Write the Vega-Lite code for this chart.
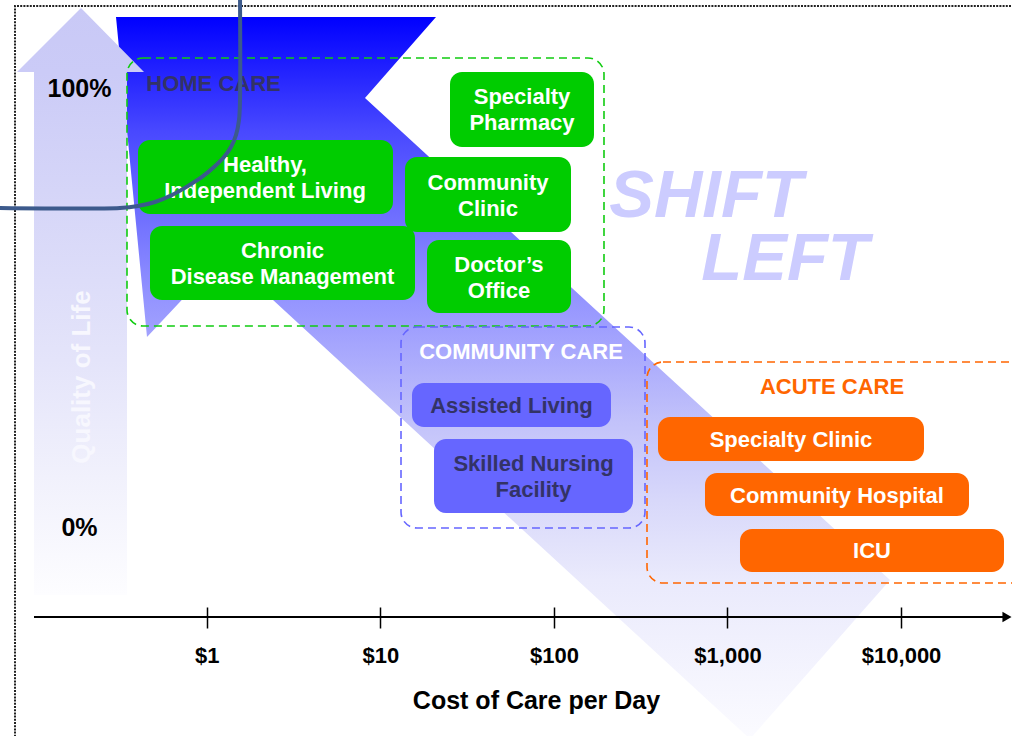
{
  "$schema": "https://vega.github.io/schema/vega-lite/v6.json",
  "width": 1012,
  "height": 736,
  "autosize": "none",
  "padding": 0,
  "background": "white",
  "config": {
    "view": {"stroke": null},
    "font": "Liberation Sans",
    "axisX": {"domain": false, "grid": false, "ticks": true, "tickSize": 21, "tickWidth": 1.5, "tickColor": "black",
      "labelFont": "Liberation Sans", "labelFontSize": 22, "labelFontWeight": "bold", "labelColor": "black", "labelPadding": 17,
      "labelFlush": false, "labelOverlap": false, "labelBound": false,
      "titleFont": "Liberation Sans", "titleFontSize": 25, "titleFontWeight": "bold", "titleColor": "black"},
    "axisY": {"domain": false, "grid": false, "ticks": false, "tickSize": 0, "labelPadding": 0, "labelAlign": "center", "labelBaseline": "middle",
      "labelFont": "Liberation Sans", "labelFontSize": 25, "labelFontWeight": "bold", "labelColor": "black"}
  },
  "datasets": {
    "border": [
      {"i": 0, "cost": 0.07866, "q": -48.52},
      {"i": 1, "cost": 0.07866, "q": 118.68},
      {"i": 2, "cost": 55273, "q": 118.68}
    ],
    "bigArrow": [
      {"i": 0, "cost": 0.30028, "q": 116.17},
      {"i": 1, "cost": 20.934, "q": 116.17},
      {"i": 2, "cost": 8.1634, "q": 97.72},
      {"i": 3, "cost": 8631.4, "q": -12.07},
      {"i": 4, "cost": 1347.8, "q": -48.29},
      {"i": 5, "cost": 1.2579, "q": 61.96},
      {"i": 6, "cost": 0.45301, "q": 43.28}
    ],
    "qualityArrow": [
      {"i": 0, "cost": 0.18877, "q": 118.22},
      {"i": 1, "cost": 0.43535, "q": 103.64},
      {"i": 2, "cost": 0.34745, "q": 103.64},
      {"i": 3, "cost": 0.34745, "q": -15.49},
      {"i": 4, "cost": 0.1012, "q": -15.49},
      {"i": 5, "cost": 0.1012, "q": 103.64},
      {"i": 6, "cost": 0.08078, "q": 103.64}
    ],
    "zones": [
      {"zone": "home", "cost": 0.34745, "cost2": 194.35, "q": 106.83, "q2": 45.79},
      {"zone": "community", "cost": 13.16, "cost2": 334.8, "q": 45.56, "q2": -0.23},
      {"zone": "acute", "cost": 343.8, "cost2": 55273, "q": 37.59, "q2": -12.76}
    ],
    "zoneTitles": [
      {"zone": "home", "title": "HOME CARE", "cost": 1.0943, "q": 100.91},
      {"zone": "community", "title": "COMMUNITY CARE", "cost": 64.637, "q": 39.86},
      {"zone": "acute", "title": "ACUTE CARE", "cost": 3999.1, "q": 31.89}
    ],
    "settings": [
      {"zone": "home", "label": "Specialty\nPharmacy", "lines": 2, "cost": 25.206, "cost2": 170.21, "q": 103.64, "q2": 86.56, "labelCost": 65.5, "labelQ": 94.99},
      {"zone": "home", "label": "Healthy,\nIndependent Living", "lines": 2, "cost": 0.40204, "cost2": 11.835, "q": 88.15, "q2": 71.3, "labelCost": 2.16696, "labelQ": 79.61},
      {"zone": "home", "label": "Community\nClinic", "lines": 2, "cost": 13.876, "cost2": 125.46, "q": 84.28, "q2": 67.2, "labelCost": 41.725, "labelQ": 75.4},
      {"zone": "home", "label": "Chronic\nDisease Management", "lines": 2, "cost": 0.47142, "cost2": 15.845, "q": 68.56, "q2": 51.71, "labelCost": 2.73313, "labelQ": 59.91},
      {"zone": "home", "label": "Doctor’s\nOffice", "lines": 2, "cost": 18.579, "cost2": 125.46, "q": 65.38, "q2": 48.75, "labelCost": 48.279, "labelQ": 56.72},
      {"zone": "community", "label": "Assisted Living", "lines": 1, "cost": 15.226, "cost2": 213.25, "q": 32.8, "q2": 22.78, "labelCost": 56.984, "labelQ": 27.56},
      {"zone": "community", "label": "Skilled Nursing\nFacility", "lines": 2, "cost": 20.386, "cost2": 285.52, "q": 20.05, "q2": 3.19, "labelCost": 76.294, "labelQ": 11.28},
      {"zone": "acute", "label": "Specialty Clinic", "lines": 1, "cost": 397.79, "cost2": 13549, "q": 25.06, "q2": 15.03, "labelCost": 2321.7, "labelQ": 19.82},
      {"zone": "acute", "label": "Community  Hospital", "lines": 1, "cost": 741.94, "cost2": 24611, "q": 12.3, "q2": 2.51, "labelCost": 4273.2, "labelQ": 7.06},
      {"zone": "acute", "label": "ICU", "lines": 1, "cost": 1180.3, "cost2": 39151, "q": -0.46, "q2": -10.25, "labelCost": 6797.7, "labelQ": -5.47}
    ],
    "shift": [
      {"word": "SHIFT", "cost": 751.88, "q": 75.17},
      {"word": "LEFT", "cost": 2143.9, "q": 60.82}
    ],
    "quality": [
      {"text": "Quality of Life", "cost": 0.19129, "q": 34.17}
    ],
    "curve": [
      {"i": 0, "cost": 1.5553, "q": 121.18},
      {"i": 1, "cost": 1.5553, "q": 97.27},
      {"i": 2, "cost": 1.5348, "q": 92.71},
      {"i": 3, "cost": 1.475, "q": 89.29},
      {"i": 4, "cost": 1.3804, "q": 86.56},
      {"i": 5, "cost": 1.2579, "q": 84.28},
      {"i": 6, "cost": 1.1016, "q": 82.0},
      {"i": 7, "cost": 0.93961, "q": 79.73},
      {"i": 8, "cost": 0.78033, "q": 77.68},
      {"i": 9, "cost": 0.63114, "q": 75.63},
      {"i": 10, "cost": 0.50373, "q": 74.03},
      {"i": 11, "cost": 0.40204, "q": 73.12},
      {"i": 12, "cost": 0.31665, "q": 72.67},
      {"i": 13, "cost": 0.064466, "q": 72.67}
    ],
    "axisLine": [
      {"cost": 0.1012, "cost2": 39500, "q": -20.5}
    ],
    "axisHead": [
      {"cost": 40740, "q": -20.5}
    ]
  },
  "layer": [
    {
      "data": {"name": "border"},
      "mark": {"type": "line", "stroke": "#222222", "strokeWidth": 2, "strokeDash": [2, 1.2]},
      "encoding": {
        "x": {"field": "cost", "type": "quantitative", "scale": {"type": "log", "domain": [0.064466, 43535], "nice": false},
          "axis": {"values": [1, 10, 100, 1000, 10000], "labelExpr": "'$' + format(datum.value, ',')", "offset": -129, "zindex": 1, "title": "Cost of Care per Day", "titleX": 536, "titleY": 101, "titleAlign": "center", "titleBaseline": "alphabetic"}},
        "y": {"field": "q", "type": "quantitative", "scale": {"domain": [-47.608, 120.046], "nice": false, "zero": false},
          "axis": {"values": [0, 100], "labelExpr": "datum.value + '%'", "offset": -79, "zindex": 1, "title": null}},
        "order": {"field": "i"}
      }
    },
    {
      "data": {"name": "bigArrow"},
      "mark": {
        "type": "line", "interpolate": "linear-closed", "strokeWidth": 0,
        "fill": {"gradient": "linear", "x1": 0, "y1": 0, "x2": 0, "y2": 1,
          "stops": [
            {"offset": 0, "color": "#0000ff"},
            {"offset": 0.157, "color": "#4848ff"},
            {"offset": 0.39, "color": "#9494ff"},
            {"offset": 0.56, "color": "#c2c2fa"},
            {"offset": 0.67, "color": "#d8d8fa"},
            {"offset": 0.78, "color": "#eaeafc"},
            {"offset": 1, "color": "#fbfbff"}
          ]}
      },
      "encoding": {
        "x": {"field": "cost", "type": "quantitative", "scale": {"type": "log", "domain": [0.064466, 43535], "nice": false},
          "axis": {"values": [1, 10, 100, 1000, 10000], "labelExpr": "'$' + format(datum.value, ',')", "offset": -129, "zindex": 1, "title": "Cost of Care per Day", "titleX": 536, "titleY": 101, "titleAlign": "center", "titleBaseline": "alphabetic"}},
        "y": {"field": "q", "type": "quantitative", "scale": {"domain": [-47.608, 120.046], "nice": false, "zero": false},
          "axis": {"values": [0, 100], "labelExpr": "datum.value + '%'", "offset": -79, "zindex": 1, "title": null}},
        "order": {"field": "i"}
      }
    },
    {
      "data": {"name": "qualityArrow"},
      "mark": {
        "type": "line", "interpolate": "linear-closed", "strokeWidth": 0,
        "fill": {"gradient": "linear", "x1": 0, "y1": 0, "x2": 0, "y2": 1,
          "stops": [
            {"offset": 0, "color": "#c9c9f6"},
            {"offset": 0.11, "color": "#cbcbf7"},
            {"offset": 0.33, "color": "#d6d6f8"},
            {"offset": 0.6, "color": "#e4e4fa"},
            {"offset": 0.8, "color": "#f1f1fc"},
            {"offset": 1, "color": "#fdfdff"}
          ]}
      },
      "encoding": {
        "x": {"field": "cost", "type": "quantitative", "scale": {"type": "log", "domain": [0.064466, 43535], "nice": false},
          "axis": {"values": [1, 10, 100, 1000, 10000], "labelExpr": "'$' + format(datum.value, ',')", "offset": -129, "zindex": 1, "title": "Cost of Care per Day", "titleX": 536, "titleY": 101, "titleAlign": "center", "titleBaseline": "alphabetic"}},
        "y": {"field": "q", "type": "quantitative", "scale": {"domain": [-47.608, 120.046], "nice": false, "zero": false},
          "axis": {"values": [0, 100], "labelExpr": "datum.value + '%'", "offset": -79, "zindex": 1, "title": null}},
        "order": {"field": "i"}
      }
    },
    {
      "data": {"name": "zones"},
      "mark": {"type": "rect", "fill": null, "fillOpacity": 0, "strokeWidth": 1.6, "strokeDash": [8, 5], "cornerRadius": 16},
      "encoding": {
        "x": {"field": "cost", "type": "quantitative", "scale": {"type": "log", "domain": [0.064466, 43535], "nice": false},
          "axis": {"values": [1, 10, 100, 1000, 10000], "labelExpr": "'$' + format(datum.value, ',')", "offset": -129, "zindex": 1, "title": "Cost of Care per Day", "titleX": 536, "titleY": 101, "titleAlign": "center", "titleBaseline": "alphabetic"}},
        "x2": {"field": "cost2"},
        "y": {"field": "q", "type": "quantitative", "scale": {"domain": [-47.608, 120.046], "nice": false, "zero": false},
          "axis": {"values": [0, 100], "labelExpr": "datum.value + '%'", "offset": -79, "zindex": 1, "title": null}},
        "y2": {"field": "q2"},
        "stroke": {"field": "zone", "type": "nominal", "scale": {"domain": ["home", "community", "acute"], "range": ["#11cc11", "#6666ff", "#ff6600"]}, "legend": null}
      }
    },
    {
      "data": {"name": "settings"},
      "mark": {"type": "rect", "cornerRadius": 12},
      "encoding": {
        "x": {"field": "cost", "type": "quantitative", "scale": {"type": "log", "domain": [0.064466, 43535], "nice": false},
          "axis": {"values": [1, 10, 100, 1000, 10000], "labelExpr": "'$' + format(datum.value, ',')", "offset": -129, "zindex": 1, "title": "Cost of Care per Day", "titleX": 536, "titleY": 101, "titleAlign": "center", "titleBaseline": "alphabetic"}},
        "x2": {"field": "cost2"},
        "y": {"field": "q", "type": "quantitative", "scale": {"domain": [-47.608, 120.046], "nice": false, "zero": false},
          "axis": {"values": [0, 100], "labelExpr": "datum.value + '%'", "offset": -79, "zindex": 1, "title": null}},
        "y2": {"field": "q2"},
        "color": {"field": "zone", "type": "nominal", "scale": {"domain": ["home", "community", "acute"], "range": ["#00cc00", "#6666ff", "#ff6600"]}, "legend": null}
      }
    },
    {
      "data": {"name": "settings"},
      "transform": [{"filter": "datum.lines === 1"}],
      "mark": {"type": "text", "fontSize": 22, "fontWeight": "bold", "align": "center", "baseline": "middle"},
      "encoding": {
        "x": {"field": "labelCost", "type": "quantitative", "scale": {"type": "log", "domain": [0.064466, 43535], "nice": false},
          "axis": {"values": [1, 10, 100, 1000, 10000], "labelExpr": "'$' + format(datum.value, ',')", "offset": -129, "zindex": 1, "title": "Cost of Care per Day", "titleX": 536, "titleY": 101, "titleAlign": "center", "titleBaseline": "alphabetic"}},
        "y": {"field": "labelQ", "type": "quantitative", "scale": {"domain": [-47.608, 120.046], "nice": false, "zero": false},
          "axis": {"values": [0, 100], "labelExpr": "datum.value + '%'", "offset": -79, "zindex": 1, "title": null}},
        "text": {"field": "label"},
        "color": {"condition": {"test": "datum.zone === 'community'", "value": "#333366"}, "value": "white"}
      }
    },
    {
      "data": {"name": "settings"},
      "transform": [{"filter": "datum.lines === 2"}],
      "mark": {"type": "text", "fontSize": 22, "fontWeight": "bold", "lineBreak": "\n", "lineHeight": 26, "dy": -13, "align": "center", "baseline": "middle"},
      "encoding": {
        "x": {"field": "labelCost", "type": "quantitative", "scale": {"type": "log", "domain": [0.064466, 43535], "nice": false},
          "axis": {"values": [1, 10, 100, 1000, 10000], "labelExpr": "'$' + format(datum.value, ',')", "offset": -129, "zindex": 1, "title": "Cost of Care per Day", "titleX": 536, "titleY": 101, "titleAlign": "center", "titleBaseline": "alphabetic"}},
        "y": {"field": "labelQ", "type": "quantitative", "scale": {"domain": [-47.608, 120.046], "nice": false, "zero": false},
          "axis": {"values": [0, 100], "labelExpr": "datum.value + '%'", "offset": -79, "zindex": 1, "title": null}},
        "text": {"field": "label"},
        "color": {"condition": {"test": "datum.zone === 'community'", "value": "#333366"}, "value": "white"}
      }
    },
    {
      "data": {"name": "zoneTitles"},
      "mark": {"type": "text", "fontSize": 22, "fontWeight": "bold", "align": "center", "baseline": "middle"},
      "encoding": {
        "x": {"field": "cost", "type": "quantitative", "scale": {"type": "log", "domain": [0.064466, 43535], "nice": false},
          "axis": {"values": [1, 10, 100, 1000, 10000], "labelExpr": "'$' + format(datum.value, ',')", "offset": -129, "zindex": 1, "title": "Cost of Care per Day", "titleX": 536, "titleY": 101, "titleAlign": "center", "titleBaseline": "alphabetic"}},
        "y": {"field": "q", "type": "quantitative", "scale": {"domain": [-47.608, 120.046], "nice": false, "zero": false},
          "axis": {"values": [0, 100], "labelExpr": "datum.value + '%'", "offset": -79, "zindex": 1, "title": null}},
        "text": {"field": "title"},
        "color": {"condition": [{"test": "datum.zone === 'home'", "value": "#333366"}, {"test": "datum.zone === 'acute'", "value": "#ff6600"}], "value": "white"}
      }
    },
    {
      "data": {"name": "shift"},
      "mark": {"type": "text", "fontSize": 67, "fontWeight": "bold", "fontStyle": "italic", "align": "center", "baseline": "middle", "color": "#ccccff"},
      "encoding": {
        "x": {"field": "cost", "type": "quantitative", "scale": {"type": "log", "domain": [0.064466, 43535], "nice": false},
          "axis": {"values": [1, 10, 100, 1000, 10000], "labelExpr": "'$' + format(datum.value, ',')", "offset": -129, "zindex": 1, "title": "Cost of Care per Day", "titleX": 536, "titleY": 101, "titleAlign": "center", "titleBaseline": "alphabetic"}},
        "y": {"field": "q", "type": "quantitative", "scale": {"domain": [-47.608, 120.046], "nice": false, "zero": false},
          "axis": {"values": [0, 100], "labelExpr": "datum.value + '%'", "offset": -79, "zindex": 1, "title": null}},
        "text": {"field": "word"}
      }
    },
    {
      "data": {"name": "quality"},
      "mark": {"type": "text", "fontSize": 26, "fontWeight": "bold", "align": "center", "baseline": "middle", "angle": 270, "color": "#f7f7fe"},
      "encoding": {
        "x": {"field": "cost", "type": "quantitative", "scale": {"type": "log", "domain": [0.064466, 43535], "nice": false},
          "axis": {"values": [1, 10, 100, 1000, 10000], "labelExpr": "'$' + format(datum.value, ',')", "offset": -129, "zindex": 1, "title": "Cost of Care per Day", "titleX": 536, "titleY": 101, "titleAlign": "center", "titleBaseline": "alphabetic"}},
        "y": {"field": "q", "type": "quantitative", "scale": {"domain": [-47.608, 120.046], "nice": false, "zero": false},
          "axis": {"values": [0, 100], "labelExpr": "datum.value + '%'", "offset": -79, "zindex": 1, "title": null}},
        "text": {"field": "text"}
      }
    },
    {
      "data": {"name": "curve"},
      "mark": {"type": "line", "interpolate": "catmull-rom", "stroke": "#3c5a8c", "strokeWidth": 4},
      "encoding": {
        "x": {"field": "cost", "type": "quantitative", "scale": {"type": "log", "domain": [0.064466, 43535], "nice": false},
          "axis": {"values": [1, 10, 100, 1000, 10000], "labelExpr": "'$' + format(datum.value, ',')", "offset": -129, "zindex": 1, "title": "Cost of Care per Day", "titleX": 536, "titleY": 101, "titleAlign": "center", "titleBaseline": "alphabetic"}},
        "y": {"field": "q", "type": "quantitative", "scale": {"domain": [-47.608, 120.046], "nice": false, "zero": false},
          "axis": {"values": [0, 100], "labelExpr": "datum.value + '%'", "offset": -79, "zindex": 1, "title": null}},
        "order": {"field": "i"}
      }
    },
    {
      "data": {"name": "axisLine"},
      "mark": {"type": "rule", "stroke": "black", "strokeWidth": 2},
      "encoding": {
        "x": {"field": "cost", "type": "quantitative", "scale": {"type": "log", "domain": [0.064466, 43535], "nice": false},
          "axis": {"values": [1, 10, 100, 1000, 10000], "labelExpr": "'$' + format(datum.value, ',')", "offset": -129, "zindex": 1, "title": "Cost of Care per Day", "titleX": 536, "titleY": 101, "titleAlign": "center", "titleBaseline": "alphabetic"}},
        "x2": {"field": "cost2"},
        "y": {"field": "q", "type": "quantitative", "scale": {"domain": [-47.608, 120.046], "nice": false, "zero": false},
          "axis": {"values": [0, 100], "labelExpr": "datum.value + '%'", "offset": -79, "zindex": 1, "title": null}}
      }
    },
    {
      "data": {"name": "axisHead"},
      "mark": {"type": "point", "shape": "triangle-right", "filled": true, "size": 110, "color": "black", "opacity": 1},
      "encoding": {
        "x": {"field": "cost", "type": "quantitative", "scale": {"type": "log", "domain": [0.064466, 43535], "nice": false},
          "axis": {"values": [1, 10, 100, 1000, 10000], "labelExpr": "'$' + format(datum.value, ',')", "offset": -129, "zindex": 1, "title": "Cost of Care per Day", "titleX": 536, "titleY": 101, "titleAlign": "center", "titleBaseline": "alphabetic"}},
        "y": {"field": "q", "type": "quantitative", "scale": {"domain": [-47.608, 120.046], "nice": false, "zero": false},
          "axis": {"values": [0, 100], "labelExpr": "datum.value + '%'", "offset": -79, "zindex": 1, "title": null}}
      }
    }
  ]
}
